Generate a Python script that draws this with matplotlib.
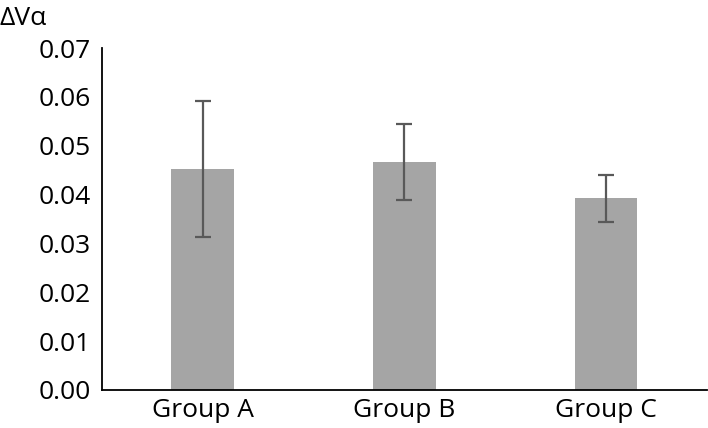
import numpy as np
import matplotlib.pyplot as plt

plt.rcParams['font.family'] = ['Open Sans', 'DejaVu Sans']

groups = ['Group A', 'Group B', 'Group C']
means = [0.0453, 0.0467, 0.0392]
errs = [0.0139, 0.0078, 0.0048]
yticks = [0.00, 0.01, 0.02, 0.03, 0.04, 0.05, 0.06, 0.07]

fig = plt.figure(figsize=(7.08, 4.28), dpi=100)
ax = fig.add_axes([0.144, 0.0888, 0.854, 0.799])

x = np.arange(len(groups))
ax.bar(x, means, width=0.31, color='#a5a5a5', zorder=2)
ax.errorbar(x, means, yerr=errs, fmt='none', ecolor='#595959',
            elinewidth=1.6, capsize=6, capthick=1.6, zorder=3)

ax.set_xlim(-0.5, 2.5)
ax.set_ylim(0, 0.07)
ax.set_xticks(x)
ax.set_xticklabels(groups)
ax.set_yticks(yticks)
ax.set_yticklabels(['%.2f' % v for v in yticks])
ax.tick_params(length=0, labelsize=19, pad=6)
ax.tick_params(axis='y', pad=8)

for s in ['top', 'right']:
    ax.spines[s].set_visible(False)
ax.spines['left'].set_linewidth(1.3)
ax.spines['bottom'].set_linewidth(1.3)

fig.text(0.0, 0.985, 'ΔVα', fontsize=19, ha='left', va='top')

plt.savefig('out.png', dpi=100)
